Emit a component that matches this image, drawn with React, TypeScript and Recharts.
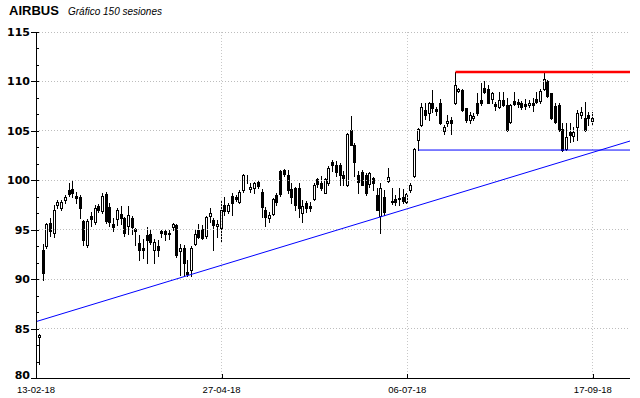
import React from 'react';
import { ComposedChart, Bar, XAxis, YAxis, ReferenceLine } from 'recharts';

const opens = [
  84.1, 92.9, 93.35, 95.7, 94.7, 97.5, 97.2, 98.0, 99.0, 99.1,
  98.4, 98.3, 95.9, 93.5, 96.4, 95.75, 97.4, 96.9, 98.6, 97.3,
  95.6, 96.05, 96.55, 96.15, 95.4, 96.2, 95.1, 93.7, 93.1, 94.5,
  94.6, 92.95, 93.35, 94.9, 94.85, 94.65, 95.3, 95.5, 92.8, 93.2,
  90.7, 90.9, 93.6, 95.0, 95.1, 94.35, 96.4, 96.0, 95.4, 95.15,
  97.45, 96.9, 98.4, 98.35, 97.85, 99.0, 100.4, 99.1, 99.2, 99.8,
  98.85, 97.0, 96.15, 96.55, 98.5, 100.9, 101.0, 100.5, 99.1, 99.2,
  99.2, 96.65, 97.7, 97.4, 98.1, 100.1, 99.7, 98.75, 99.7, 101.85,
  101.5, 101.5, 100.5, 99.5, 105.1, 103.6, 100.5, 100.85, 100.5, 99.6,
  100.2, 98.5, 96.4, 98.3, 99.96, 97.9, 98.15, 98.2, 98.27, 97.77,
  99.02, 100.4, 104.1, 105.6, 107.1, 106.85, 107.85, 107.2, 107.85, 105.0,
  105.75, 106.1, 107.8, 109.0, 109.1, 107.3, 106.1, 106.3, 107.8, 108.1,
  109.3, 109.2, 108.2, 107.7, 107.45, 108.1, 107.65, 105.9, 108.05, 107.95,
  107.8, 107.7, 107.6, 107.85, 108.2, 108.02, 109.2, 110.08, 108.8, 107.5,
  107.6, 105.15, 103.2, 104.9, 104.5, 105.43, 106.6, 106.27, 106.6, 105.98,
];
const highs = [
  84.5, 93.6, 95.7, 96.2, 97.5, 98.0, 98.0, 98.5, 99.7, 100.0,
  98.8, 98.5, 96.0, 96.1, 96.8, 97.5, 97.6, 98.7, 98.8, 97.7,
  96.2, 97.2, 97.4, 96.3, 97.4, 96.4, 95.2, 94.5, 94.1, 95.3,
  95.1, 94.1, 94.0, 95.0, 95.0, 95.0, 95.65, 95.55, 93.6, 93.45,
  91.9, 93.35, 94.97, 95.6, 95.5, 96.4, 97.15, 96.15, 96.0, 98.0,
  98.35, 97.7, 98.7, 98.5, 99.0, 100.6, 100.5, 99.7, 99.85, 99.9,
  99.1, 97.3, 96.8, 98.17, 98.75, 101.0, 101.1, 101.0, 99.7, 99.3,
  99.7, 98.0, 97.9, 97.8, 99.7, 100.2, 100.4, 100.2, 101.4, 102.1,
  102.0, 101.7, 100.9, 104.8, 106.5, 103.75, 100.9, 101.0, 100.7, 100.87,
  100.37, 99.2, 99.69, 99.0, 101.2, 99.2, 98.5, 99.2, 99.1, 98.75,
  99.69, 103.3, 105.3, 107.85, 107.85, 107.95, 109.1, 107.45, 108.2, 105.6,
  106.6, 106.4, 110.95, 109.3, 109.2, 107.35, 106.9, 106.8, 108.8, 109.8,
  110.0, 109.6, 108.97, 107.95, 108.97, 108.97, 108.3, 107.7, 108.97, 108.2,
  108.05, 108.2, 108.1, 108.3, 108.9, 109.2, 111.0, 110.15, 108.87, 107.8,
  107.85, 105.76, 105.76, 105.76, 105.4, 107.1, 107.45, 107.95, 106.94, 106.94,
];
const lows = [
  81.4, 89.9, 93.2, 94.4, 94.3, 97.2, 97.0, 97.7, 98.4, 98.3,
  97.7, 96.2, 93.5, 93.3, 95.4, 95.6, 96.8, 96.7, 95.7, 95.4,
  94.9, 95.5, 95.6, 94.4, 94.6, 94.6, 93.5, 91.9, 92.1, 91.6,
  93.6, 91.6, 92.3, 94.3, 94.0, 94.1, 94.97, 92.27, 90.4, 90.4,
  90.3, 90.3, 93.45, 94.2, 94.1, 94.2, 95.8, 92.95, 94.3, 93.8,
  96.5, 96.7, 96.5, 97.9, 97.7, 98.85, 99.7, 98.85, 98.7, 99.2,
  96.3, 95.4, 95.8, 96.45, 97.5, 98.4, 100.4, 98.7, 97.7, 97.0,
  96.3, 95.8, 96.8, 96.9, 98.0, 99.35, 99.0, 98.7, 99.5, 100.9,
  100.4, 99.5, 99.5, 99.4, 103.55, 100.4, 98.7, 99.5, 98.5, 99.35,
  99.0, 96.99, 94.63, 96.5, 99.86, 97.65, 97.5, 97.5, 97.67, 97.7,
  98.85, 100.3, 103.05, 105.5, 106.2, 106.1, 106.9, 106.6, 105.7, 104.7,
  105.5, 104.7, 107.7, 108.9, 107.05, 105.9, 105.8, 106.1, 106.6, 107.6,
  108.8, 107.8, 107.85, 107.1, 107.35, 107.55, 104.95, 105.8, 107.6, 107.45,
  107.2, 107.2, 107.45, 107.05, 107.8, 107.85, 109.1, 108.4, 106.17, 105.8,
  105.0, 103.0, 103.07, 103.9, 104.0, 104.08, 106.27, 105.0, 105.6, 105.7,
];
const closes = [
  84.3, 90.6, 95.6, 94.9, 97.0, 97.8, 97.8, 98.3, 98.6, 98.7,
  98.25, 97.2, 94.0, 95.9, 96.1, 97.15, 97.0, 98.4, 95.9, 95.8,
  95.3, 97.0, 96.15, 94.65, 96.5, 95.3, 94.9, 92.9, 92.95, 94.0,
  93.8, 93.8, 92.9, 94.65, 94.6, 94.6, 95.55, 92.45, 93.1, 91.6,
  90.5, 93.2, 94.6, 94.3, 94.2, 96.25, 96.7, 95.5, 95.55, 97.0,
  96.9, 97.45, 97.75, 98.1, 98.85, 100.5, 100.45, 99.3, 99.7, 99.45,
  97.3, 96.3, 96.5, 98.07, 97.8, 98.6, 100.6, 99.0, 98.3, 97.5,
  97.2, 97.4, 97.2, 97.2, 99.5, 99.6, 99.2, 100.1, 101.2, 101.5,
  100.8, 100.5, 100.2, 104.7, 103.6, 101.9, 99.85, 99.5, 98.68, 100.77,
  99.76, 96.99, 99.19, 96.8, 100.37, 97.8, 97.85, 98.1, 97.94, 98.61,
  99.52, 103.2, 105.2, 107.4, 106.6, 107.8, 107.3, 107.05, 105.8, 105.4,
  106.0, 105.8, 109.6, 109.2, 107.1, 106.1, 106.6, 106.5, 106.8, 107.8,
  108.9, 107.85, 108.8, 107.55, 108.12, 107.6, 105.1, 107.6, 107.7, 107.7,
  107.45, 107.5, 107.85, 107.6, 107.95, 109.03, 110.2, 108.53, 106.27, 105.9,
  105.1, 103.07, 104.35, 104.6, 104.9, 106.77, 106.9, 105.09, 106.27, 106.27,
];

const dateTickIndex = [-1, 49, 99, 149];
const dateTickLabels = ['13-02-18', '27-04-18', '06-07-18', '17-09-18'];
const priceMajorTicks = [80, 85, 90, 95, 100, 105, 110, 115];
const priceAllTicks = Array.from({ length: 22 }, (_, k) => 80 + (k * 5) / 3);

const supportTrend = [{ i: -1, v: 85.7 }, { i: 159, v: 103.97 }];
const supportLevel = [{ i: 102, v: 103.06 }, { i: 159, v: 103.06 }];
const resistanceLevel = [{ i: 112, v: 110.95 }, { i: 159, v: 110.95 }];

const data = opens.map((o, i) => ({
  i,
  o,
  h: highs[i],
  l: lows[i],
  c: closes[i],
  range: [lows[i], highs[i]],
}));

const AXIS_X = 36;
const PLOT_BOTTOM = 378;

function Candle(props: any) {
  const { x, y, width, height, payload } = props;
  if (!payload || x == null || y == null) return null;
  const { o, h, l, c } = payload;
  const top = Math.min(y, y + height);
  const hgt = Math.abs(height);
  const k = h - l > 0 ? hgt / (h - l) : 0;
  const yOf = (v: number) => top + (h - v) * k;
  const center = x + width / 2;
  const X = Math.round(center - 1.5);
  const wx = X + 1.5;
  const yH = Math.round(yOf(h));
  const yL = Math.round(yOf(l));
  const bTop = Math.round(yOf(Math.max(o, c)));
  const bBot = Math.round(yOf(Math.min(o, c)));
  const up = c >= o;
  return (
    <g shapeRendering="crispEdges">
      <line x1={wx} x2={wx} y1={yH} y2={yL + 1} stroke="#000" strokeWidth={1} />
      {up ? (
        <rect x={X + 0.5} y={bTop + 0.5} width={2} height={Math.max(0, bBot - bTop)} fill="#fff" stroke="#000" strokeWidth={1} />
      ) : (
        <rect x={X} y={bTop} width={3} height={Math.max(1, bBot - bTop + 1)} fill="#000" />
      )}
    </g>
  );
}

function XTick(props: any) {
  const { x, payload } = props;
  const k = dateTickIndex.indexOf(payload.value);
  const px = Math.round(x) + 0.5;
  return (
    <g>
      <line x1={px} x2={px} y1={PLOT_BOTTOM} y2={PLOT_BOTTOM - 4} stroke="#000" shapeRendering="crispEdges" />
      <text x={x} y={393} textAnchor="middle" fontFamily="Liberation Sans, Arial, sans-serif" fontSize={9.5} fill="#000">
        {dateTickLabels[k]}
      </text>
    </g>
  );
}

function YTick(props: any) {
  const { y, payload } = props;
  const v = payload.value;
  const py = Math.round(y) + 0.5;
  const major = Math.abs(v - Math.round(v / 5) * 5) < 1e-6;
  if (major) {
    const label = Math.round(v);
    const shift = label === 80 ? -3 : 0;
    return (
      <g>
        <line x1={AXIS_X - 5} x2={AXIS_X + 3} y1={py} y2={py} stroke="#000" shapeRendering="crispEdges" />
        <text x={AXIS_X - 6} y={y + shift} dy="0.36em" textAnchor="end" fontFamily="DejaVu Sans, Verdana, sans-serif" fontWeight="bold" fontSize={11} fill="#000">
          {label}
        </text>
      </g>
    );
  }
  return <line x1={AXIS_X} x2={AXIS_X + 3} y1={py} y2={py} stroke="#000" shapeRendering="crispEdges" />;
}

export default function App() {
  return (
    <div style={{ position: 'absolute', left: 0, top: 0, width: 640, height: 398, background: '#fff' }}>
      <svg width={640} height={24} style={{ position: 'absolute', left: 0, top: 0 }}>
        <text x={9} y={15} fontFamily="Liberation Sans, Arial, sans-serif" fontWeight="bold" fontSize={13} fill="#000">
          AIRBUS
        </text>
        <text x={68} y={15} fontFamily="Liberation Sans, Arial, sans-serif" fontStyle="italic" fontSize={10} fill="#000">
          Gráfico 150 sesiones
        </text>
      </svg>
      <div style={{ position: 'absolute', left: 0, top: 0 }}>
        <ComposedChart width={640} height={398} data={data} margin={{ top: 32, right: 10, bottom: 0, left: 0 }}>
          {priceMajorTicks.filter((v) => v > 80).map((v) => (
            <ReferenceLine key={'h' + v} y={v} stroke="#bdbdbd" strokeDasharray="1 2" shapeRendering="crispEdges" />
          ))}
          {dateTickIndex.filter((t) => t > -1).map((t) => (
            <ReferenceLine key={'v' + t} x={t} stroke="#c8c8c8" strokeDasharray="1 2" shapeRendering="crispEdges" />
          ))}
          <XAxis
            type="number"
            dataKey="i"
            domain={[-1, 159]}
            ticks={dateTickIndex}
            interval={0}
            tickLine={false}
            axisLine={{ stroke: '#000', shapeRendering: 'crispEdges' }}
            tick={<XTick />}
            height={20}
            allowDataOverflow
          />
          <YAxis
            type="number"
            domain={[80, 115]}
            ticks={priceAllTicks}
            interval={0}
            tickLine={false}
            axisLine={{ stroke: '#000', shapeRendering: 'crispEdges' }}
            tick={<YTick />}
            width={36}
            allowDataOverflow
          />
          <Bar dataKey="range" barSize={3} isAnimationActive={false} shape={(p: any) => <Candle {...p} />} />
          <ReferenceLine
            segment={[{ x: supportTrend[0].i, y: supportTrend[0].v }, { x: supportTrend[1].i, y: supportTrend[1].v }]}
            stroke="#0000ff"
            strokeWidth={1}
          />
          <ReferenceLine
            segment={[{ x: supportLevel[0].i, y: supportLevel[0].v }, { x: supportLevel[1].i, y: supportLevel[1].v }]}
            stroke="#0000ff"
            strokeWidth={1}
          />
          <ReferenceLine
            segment={[{ x: resistanceLevel[0].i, y: resistanceLevel[0].v }, { x: resistanceLevel[1].i, y: resistanceLevel[1].v }]}
            stroke="#ff0000"
            strokeWidth={2.5}
          />
        </ComposedChart>
      </div>
    </div>
  );
}
